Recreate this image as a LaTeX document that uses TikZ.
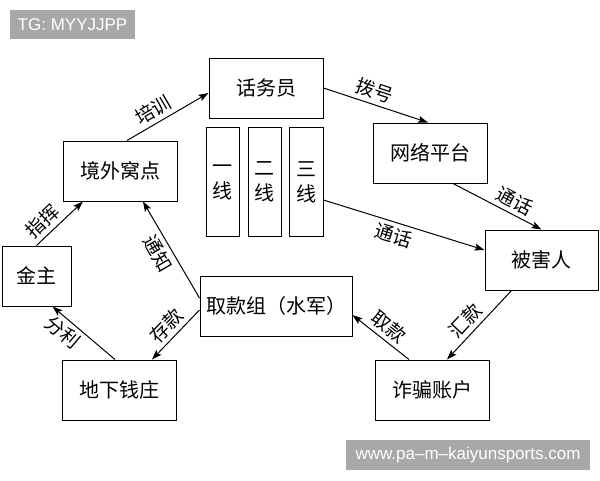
\documentclass[tikz,border=0pt]{standalone}
\usepackage{fontspec}
\setmainfont{Liberation Sans}
\newfontfamily\cjk{Noto Sans CJK SC}
\usetikzlibrary{arrows.meta}
\definecolor{wmgray}{HTML}{A8A8A8}
\begin{document}
\begin{tikzpicture}[x=1pt, y=-1pt, line width=1pt,
  box/.style={draw, inner sep=0pt, minimum width=114pt, minimum height=60pt, font=\fontsize{20}{22}\selectfont\cjk},
  strip/.style={draw, inner sep=0pt, minimum width=33pt, minimum height=109pt, align=center, font=\fontsize{20}{25}\selectfont\cjk},
  link/.style={-{Stealth[length=10pt,width=7pt,inset=2pt]}},
  lab/.style={sloped, inner sep=4pt, font=\fontsize{19}{19}\selectfont\cjk},
  wmark/.style={fill=wmgray, text=white, inner sep=0pt, font=\fontsize{17}{17}\selectfont}]
  \useasboundingbox (0,0) rectangle (600,480);
  \node[wmark, minimum width=125pt, minimum height=29pt] (tg) at (72.5,24.5) {TG: MYYJJPP};
  \node[wmark, minimum width=244pt, minimum height=30pt] (web) at (468,455) {www.pa--m--kaiyunsports.com};
  \node[box] (hwy) at (266,88) {话务员};
  \node[box] (jwwd) at (120,171) {境外窝点};
  \node[strip] (yx) at (222.5,182) {一\\线};
  \node[strip] (ex) at (264.5,182) {二\\线};
  \node[strip, minimum width=34pt] (sx) at (306,182) {三\\线};
  \node[box] (wlpt) at (430,153) {网络平台};
  \node[box, minimum width=113pt] (bhr) at (541.5,260) {被害人};
  \node[box, minimum width=69pt] (jz) at (36.5,276) {金主};
  \node[box, minimum width=152pt] (qkz) at (276,306) {取款组（水军）};
  \node[box] (dxqz) at (119,390) {地下钱庄};
  \node[box] (zpzh) at (432,390) {诈骗账户};
  \draw[link] ([xshift=7pt]jwwd.north) -- node[lab, above, pos=0.4] {培训} ([yshift=-5pt]hwy.west);
  \draw[link] (hwy.east) -- node[lab, above, pos=0.45] {拨号} ([xshift=-2pt]wlpt.north);
  \draw[link] ([xshift=23pt]wlpt.south) -- node[lab, above, pos=0.63] {通话} (bhr.north);
  \draw[link] ([yshift=-18pt]sx.east) -- node[lab, below, pos=0.46] {通话} ([yshift=10pt]bhr.west);
  \draw[link] ([xshift=-30pt]bhr.south) -- node[lab, above, pos=0.57] {汇款} ([xshift=15pt]zpzh.north);
  \draw[link] ([xshift=-23pt]zpzh.north) -- node[lab, above, pos=0.5] {取款} ([yshift=-9pt]qkz.east);
  \draw[link] ([yshift=8pt]qkz.west) -- node[lab, below, pos=0.53] {通知} ([xshift=23pt]jwwd.south);
  \draw[link] ([yshift=-4pt]qkz.west) -- node[lab, above, pos=0.5] {存款} ([xshift=33pt]dxqz.north);
  \draw[link] ([xshift=-4pt]dxqz.north) -- node[lab, below, pos=0.7] {分利} ([xshift=16pt]jz.south);
  \draw[link] (jz.north) -- node[lab, above, pos=0.33] {指挥} ([xshift=-37pt]jwwd.south);
\end{tikzpicture}
\end{document}
